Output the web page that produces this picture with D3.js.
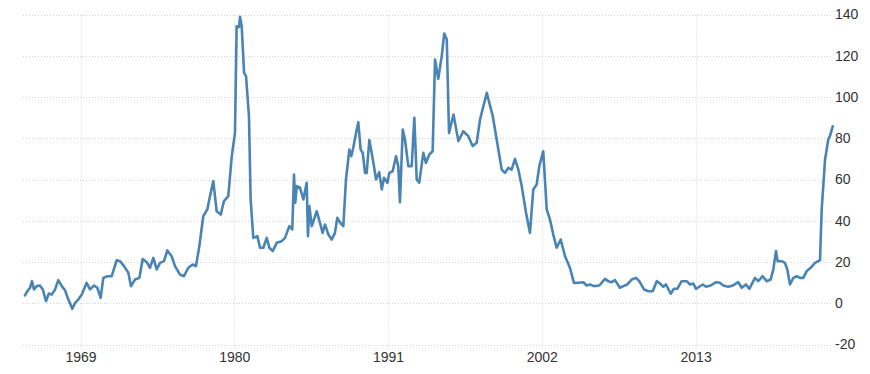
<!DOCTYPE html>
<html>
<head>
<meta charset="utf-8">
<script src="https://cdn.jsdelivr.net/npm/d3@7"></script>
<style>
  body { margin: 0; background: #fff; }
  .grid line { stroke: #d3d3d3; stroke-dasharray: 1,2; }
  .axis text { font-family: "Liberation Sans", Arial, sans-serif; font-size: 14px; fill: #333; }
</style>
</head>
<body>
<div id="chart"></div>
<script>
// decimal years and values
var years = [
  1965.03, 1965.19, 1965.39, 1965.53, 1965.67, 1965.87, 1966.10, 1966.30, 1966.53, 1966.73,
  1966.94, 1967.18, 1967.41, 1967.66, 1967.89, 1968.13, 1968.41, 1968.61, 1968.84, 1969.09,
  1969.44, 1969.68, 1969.97, 1970.20, 1970.44, 1970.63, 1970.92, 1971.23, 1971.59, 1971.83,
  1972.11, 1972.42, 1972.61, 1972.90, 1973.21, 1973.45, 1973.74, 1973.97, 1974.21, 1974.45,
  1974.69, 1974.97, 1975.21, 1975.52, 1975.76, 1976.12, 1976.40, 1976.71, 1977.03, 1977.26,
  1977.50, 1977.78, 1978.07, 1978.26, 1978.50, 1978.74, 1979.03, 1979.26, 1979.57, 1979.82,
  1980.05, 1980.17, 1980.34, 1980.41, 1980.53, 1980.70, 1980.84, 1981.05, 1981.17, 1981.36,
  1981.65, 1981.84, 1982.08, 1982.32, 1982.51, 1982.75, 1983.03, 1983.39, 1983.63, 1983.94,
  1984.15, 1984.27, 1984.36, 1984.47, 1984.70, 1984.94, 1985.18, 1985.27, 1985.37, 1985.54,
  1985.90, 1986.13, 1986.32, 1986.49, 1986.73, 1986.97, 1987.20, 1987.37, 1987.61, 1987.80,
  1987.99, 1988.23, 1988.37, 1988.51, 1988.71, 1988.87, 1989.04, 1989.19, 1989.35, 1989.47,
  1989.66, 1989.83, 1989.99, 1990.14, 1990.37, 1990.55, 1990.71, 1990.95, 1991.09, 1991.33,
  1991.57, 1991.73, 1991.85, 1992.05, 1992.21, 1992.45, 1992.69, 1992.88, 1993.05, 1993.23,
  1993.52, 1993.71, 1993.95, 1994.19, 1994.36, 1994.59, 1994.84, 1995.02, 1995.20, 1995.36,
  1995.68, 1996.03, 1996.38, 1996.74, 1997.05, 1997.34, 1997.58, 1998.06, 1998.49, 1998.77,
  1999.13, 1999.36, 1999.60, 1999.84, 2000.08, 2000.32, 2000.56, 2000.87, 2001.15, 2001.39,
  2001.63, 2001.82, 2002.10, 2002.35, 2002.58, 2002.82, 2003.06, 2003.35, 2003.66, 2004.01,
  2004.30, 2004.61, 2004.97, 2005.21, 2005.45, 2005.73, 2006.11, 2006.52, 2006.75, 2007.00,
  2007.23, 2007.59, 2007.83, 2008.11, 2008.43, 2008.74, 2008.97, 2009.31, 2009.62, 2009.93,
  2010.22, 2010.45, 2010.69, 2010.88, 2011.22, 2011.45, 2011.69, 2012.00, 2012.36, 2012.60,
  2012.83, 2013.03, 2013.26, 2013.51, 2013.74, 2014.08, 2014.46, 2014.74, 2014.98, 2015.34,
  2015.65, 2016.05, 2016.30, 2016.60, 2016.84, 2017.25, 2017.48, 2017.80, 2018.08, 2018.37,
  2018.56, 2018.75, 2018.87, 2019.16, 2019.39, 2019.56, 2019.75, 2019.99, 2020.23, 2020.47,
  2020.70, 2020.95, 2021.23, 2021.54, 2021.90, 2022.02, 2022.26, 2022.49, 2022.61, 2022.81
];
var values = [
  3.8, 5.8, 7.5, 10.7, 6.7, 8.3, 8.6, 6.7, 1.0, 4.7,
  4.2, 6.7, 11.2, 8.3, 6.3, 1.8, -2.7, 0.2, 1.8, 4.2,
  9.9, 6.7, 8.6, 7.5, 2.6, 12.3, 13.1, 13.1, 20.9, 20.4,
  18.0, 14.8, 8.3, 11.5, 12.3, 21.5, 19.9, 17.2, 22.0, 16.4,
  19.6, 20.4, 25.6, 22.8, 18.0, 13.9, 13.1, 17.2, 18.8, 18.0,
  27.7, 42.2, 45.5, 51.9, 59.2, 44.6, 43.0, 49.5, 51.9, 71.3,
  82.6, 134.3, 134.0, 138.9, 134.3, 111.7, 110.1, 90.7, 50.3, 31.7,
  32.5, 26.9, 26.9, 31.7, 26.9, 25.3, 29.3, 30.1, 31.7, 37.4,
  35.8, 62.4, 48.7, 56.8, 56.0, 50.3, 58.4, 32.5, 47.1, 37.4,
  44.6, 39.0, 34.1, 38.2, 33.3, 30.9, 34.1, 41.4, 38.7, 37.4,
  60.0, 74.5, 71.3, 75.4, 82.6, 87.8, 74.5, 72.9, 63.2, 63.2,
  79.1, 72.9, 66.5, 60.0, 63.6, 55.2, 60.8, 58.4, 63.2, 64.0,
  71.3, 66.5, 49.0, 84.2, 79.4, 66.5, 66.5, 89.9, 60.0, 58.4,
  72.9, 68.1, 72.1, 73.7, 118.2, 108.8, 119.8, 130.8, 127.9, 82.6,
  91.5, 78.6, 83.4, 81.0, 76.2, 77.8, 89.1, 102.0, 90.7, 79.4,
  64.8, 63.2, 65.6, 64.8, 70.0, 64.8, 56.8, 43.9, 34.1, 55.2,
  57.6, 66.5, 73.7, 45.5, 40.6, 33.3, 26.9, 30.9, 22.8, 17.2,
  9.9, 9.9, 10.2, 8.6, 9.1, 8.3, 8.6, 11.8, 10.7, 10.2,
  11.2, 7.5, 8.3, 9.1, 11.5, 12.3, 10.7, 6.7, 5.8, 5.8,
  10.7, 9.6, 8.0, 9.1, 4.6, 7.0, 7.0, 10.7, 10.7, 9.1,
  9.6, 7.0, 8.0, 9.1, 8.0, 8.6, 10.2, 9.9, 8.6, 8.0,
  8.6, 10.2, 7.5, 9.1, 7.0, 12.3, 10.7, 13.1, 10.7, 11.5,
  16.4, 25.3, 20.4, 20.4, 19.6, 16.4, 9.1, 12.3, 13.1, 12.3,
  12.3, 15.6, 17.2, 19.6, 20.9, 45.5, 69.7, 79.4, 81.0, 85.8
];
var xTicks = [1969, 1980, 1991, 2002, 2013];
var yTicks = [-20, 0, 20, 40, 60, 80, 100, 120, 140];

var width = 870, height = 374;
var plot = {left: 23, right: 833, top: 14.5, bottom: 344.5};

var svg = d3.select("#chart").append("svg")
    .attr("width", width)
    .attr("height", height);

var x = d3.scaleLinear()
    .domain([1965.0, 2022.85])
    .range([24.6, 833.3]);

var y = d3.scaleLinear()
    .domain([-20, 140])
    .range([plot.bottom, plot.top]);

// horizontal grid
svg.append("g").attr("class", "grid")
    .selectAll("line")
    .data(yTicks)
    .enter().append("line")
    .attr("x1", plot.left)
    .attr("x2", plot.right)
    .attr("y1", function (d) { return Math.round(y(d)) + 0.5; })
    .attr("y2", function (d) { return Math.round(y(d)) + 0.5; });

// vertical grid at year ticks
svg.append("g").attr("class", "grid")
    .selectAll("line")
    .data(xTicks)
    .enter().append("line")
    .attr("x1", function (d) { return Math.round(x(d)) + 0.5; })
    .attr("x2", function (d) { return Math.round(x(d)) + 0.5; })
    .attr("y1", plot.top)
    .attr("y2", plot.bottom + 4);

// y labels on the right (plain hyphen for negatives, like the original)
svg.append("g").attr("class", "axis")
    .attr("transform", "translate(" + plot.right + ",0)")
    .call(d3.axisRight(y).tickValues(yTicks).tickSize(0).tickPadding(2)
        .tickFormat(function (d) { return String(d); }))
    .call(function (g) { g.select(".domain").remove(); });

// x labels
svg.append("g").attr("class", "axis")
    .attr("transform", "translate(0," + plot.bottom + ")")
    .call(d3.axisBottom(x).tickValues(xTicks).tickFormat(function (d) { return String(d); })
        .tickSize(0).tickPadding(8))
    .call(function (g) { g.select(".domain").remove(); });

var line = d3.line()
    .x(function (d, i) { return x(years[i]); })
    .y(function (d) { return y(d); });

svg.append("path")
    .datum(values)
    .attr("d", line)
    .style("fill", "none")
    .style("stroke", "#4a84b4")
    .style("stroke-width", 2.6)
    .style("stroke-linejoin", "round")
    .style("stroke-linecap", "round");
</script>
</body>
</html>
